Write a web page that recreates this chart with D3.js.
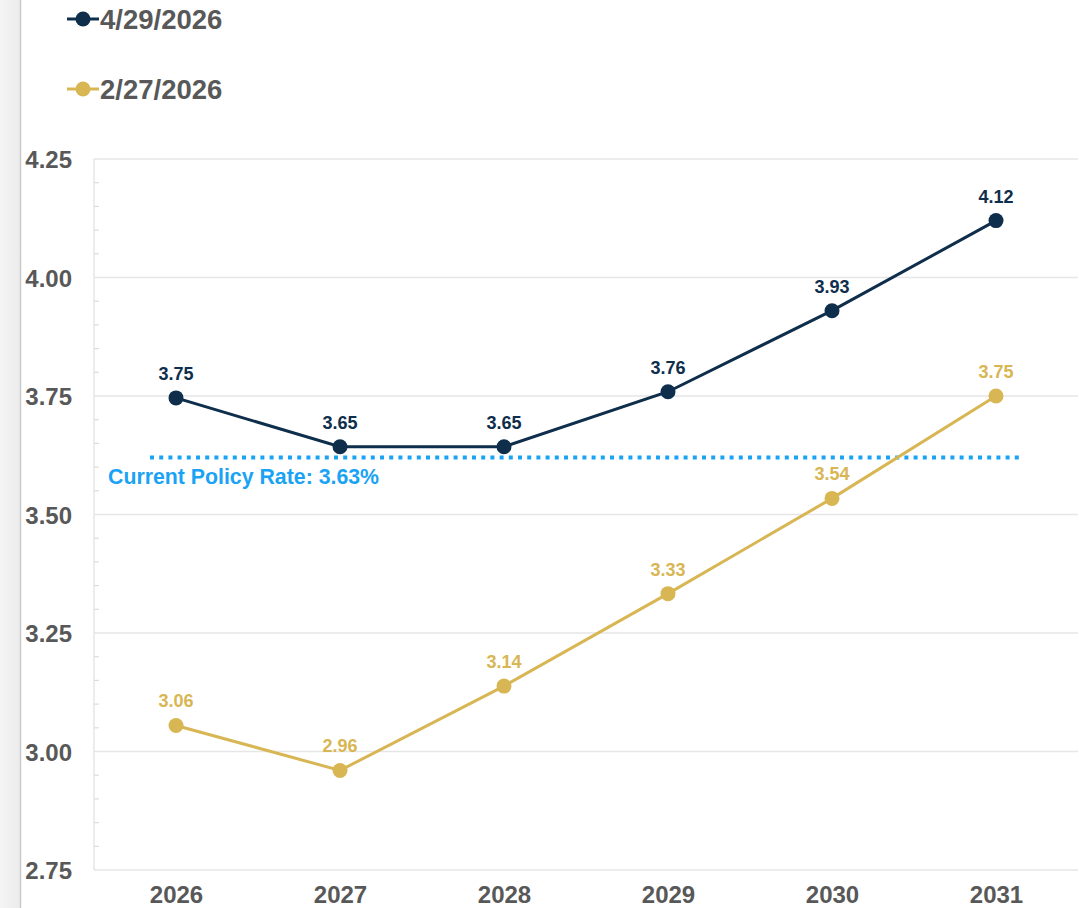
<!DOCTYPE html>
<html>
<head>
<meta charset="utf-8">
<script src="https://cdn.jsdelivr.net/npm/d3@7"></script>
<style>
  html, body { margin: 0; padding: 0; background: #fff; }
  svg { display: block; font-family: "Liberation Sans", Arial, sans-serif; }
</style>
</head>
<body>
<svg id="chart" width="1079" height="908"></svg>
<script>
// ---- data ----
const years = ["2026", "2027", "2028", "2029", "2030", "2031"];
const seriesNames = ["4/29/2026", "2/27/2026"];
const aprilValues = [3.746, 3.643, 3.643, 3.759, 3.93, 4.12];
const aprilLabels = ["3.75", "3.65", "3.65", "3.76", "3.93", "4.12"];
const febValues = [3.055, 2.96, 3.138, 3.333, 3.534, 3.75];
const febLabels = ["3.06", "2.96", "3.14", "3.33", "3.54", "3.75"];
const yTicks = [2.75, 3.00, 3.25, 3.50, 3.75, 4.00, 4.25];
const policyLineValue = 3.62;
const policyLabel = "Current Policy Rate: 3.63%";

// ---- styles ----
const navy = "#0e2e4b";
const gold = "#d8b654";
const blue = "#1aa3f5";
const gray = "#585858";
const gridColor = "#e6e6e6";

const svg = d3.select("#chart");
const W = 1079, H = 908;
const plotLeft = 94, plotRight = 1078, plotTop = 159, plotBottom = 870;

// left gray strip
const defs = svg.append("defs");
const grad = defs.append("linearGradient").attr("id", "strip").attr("x1", 0).attr("x2", 1);
grad.append("stop").attr("offset", 0).attr("stop-color", "#f4f4f4");
grad.append("stop").attr("offset", 1).attr("stop-color", "#ececec");
svg.append("rect").attr("x", 0).attr("y", 0).attr("width", 20).attr("height", H).attr("fill", "url(#strip)");
svg.append("line").attr("x1", 20.5).attr("x2", 20.5).attr("y1", 0).attr("y2", H)
  .attr("stroke", "#c9c9c9").attr("stroke-width", 1.5);

const x = d3.scalePoint().domain(years).range([plotLeft, plotRight]).padding(0.5);
const y = d3.scaleLinear().domain([2.75, 4.25]).range([plotBottom, plotTop]);

// gridlines
svg.append("g").selectAll("line").data(yTicks).join("line")
  .attr("x1", plotLeft).attr("x2", plotRight)
  .attr("y1", d => y(d)).attr("y2", d => y(d))
  .attr("stroke", gridColor).attr("stroke-width", 1.5);

// left axis line
svg.append("line").attr("x1", plotLeft).attr("x2", plotLeft).attr("y1", plotTop).attr("y2", plotBottom)
  .attr("stroke", gridColor).attr("stroke-width", 1.5);

// minor ticks
const minor = d3.range(0, 31).map(i => 2.75 + i * 0.05)
  .filter(v => Math.abs((v - 2.75) / 0.25 - Math.round((v - 2.75) / 0.25)) > 1e-6);
svg.append("g").selectAll("line").data(minor).join("line")
  .attr("x1", plotLeft).attr("x2", plotLeft + 5)
  .attr("y1", d => y(d)).attr("y2", d => y(d))
  .attr("stroke", "#dcdcdc").attr("stroke-width", 1.2);

// y axis labels
const yAxis = d3.axisLeft(y).tickValues(yTicks).tickFormat(d3.format(".2f")).tickSize(0).tickPadding(0);
const yG = svg.append("g").attr("transform", "translate(72,0)").call(yAxis);
yG.select(".domain").remove();
yG.selectAll("text").attr("fill", gray).attr("font-size", 24).attr("font-weight", "bold")
  .attr("font-family", "Liberation Sans, Arial, sans-serif").attr("dy", "0.36em");

// x axis labels
const xAxis = d3.axisBottom(x).tickSize(0).tickPadding(0);
const xG = svg.append("g").attr("transform", `translate(0,${plotBottom})`).call(xAxis);
xG.select(".domain").remove();
xG.selectAll("text").attr("fill", gray).attr("font-size", 24).attr("font-weight", "bold")
  .attr("font-family", "Liberation Sans, Arial, sans-serif").attr("dy", null).attr("y", 33);

// policy line
svg.append("line").attr("x1", 150).attr("x2", 1023)
  .attr("y1", y(policyLineValue)).attr("y2", y(policyLineValue))
  .attr("stroke", blue).attr("stroke-width", 4).attr("stroke-dasharray", "4 5.2");
svg.append("text").attr("x", 108).attr("y", 484).text(policyLabel)
  .attr("fill", blue).attr("font-size", 21.3).attr("font-weight", "bold");

// series
const series = [
  { values: aprilValues, labels: aprilLabels, color: navy },
  { values: febValues, labels: febLabels, color: gold }
];
const line = d3.line().x((d, i) => x(years[i])).y(d => y(d));
series.forEach(s => {
  svg.append("path").datum(s.values).attr("d", line)
    .attr("fill", "none").attr("stroke", s.color).attr("stroke-width", 3);
  svg.append("g").selectAll("circle").data(s.values).join("circle")
    .attr("cx", (d, i) => x(years[i])).attr("cy", d => y(d)).attr("r", 7.5)
    .attr("fill", s.color);
  svg.append("g").selectAll("text").data(s.values).join("text")
    .attr("x", (d, i) => x(years[i])).attr("y", d => y(d) - 18)
    .attr("text-anchor", "middle").attr("fill", s.color)
    .attr("font-size", 18).attr("font-weight", "bold")
    .text((d, i) => s.labels[i]);
});

// legend
const legendY = [19, 89];
seriesNames.forEach((name, i) => {
  const g = svg.append("g").attr("transform", `translate(0,${legendY[i]})`);
  g.append("line").attr("x1", 67).attr("x2", 99).attr("y1", 0).attr("y2", 0)
    .attr("stroke", series[i].color).attr("stroke-width", 3);
  g.append("circle").attr("cx", 83).attr("cy", 0).attr("r", 7.5).attr("fill", series[i].color);
  g.append("text").attr("x", 100).attr("y", 0).attr("dy", "0.36em").text(name)
    .attr("fill", gray).attr("font-size", 27.5).attr("font-weight", "bold");
});
</script>
</body>
</html>
